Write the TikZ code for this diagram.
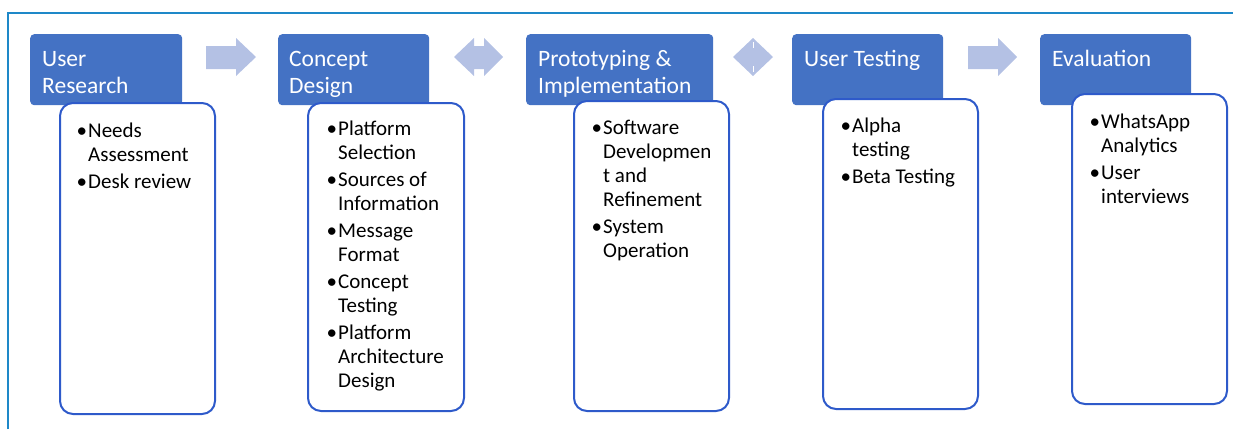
\documentclass[tikz,border=0pt]{standalone}
\usepackage{fontspec}
\setmainfont{Carlito}
\definecolor{hdrblue}{RGB}{68,114,196}
\definecolor{bodyline}{RGB}{46,90,202}
\definecolor{arrowfill}{RGB}{180,193,228}
\definecolor{framecol}{RGB}{30,136,200}
\newcommand{\bul}{\makebox[10pt][l]{\hspace{-1.5pt}•}}
\tikzset{
  hdr/.style={fill=hdrblue, draw=none, rounded corners=4pt, anchor=north west, inner sep=0pt},
  bodybox/.style={fill=white, draw=bodyline, line width=2pt, rounded corners=13pt, anchor=north west, inner sep=0pt},
  hdrtext/.style={anchor=base west, inner sep=0pt, text=white, font=\fontsize{23.5}{27}\selectfont},
  bodytext/.style={anchor=base west, inner sep=0pt, text=black, font=\fontsize{21}{24}\selectfont},
  blockarrow/.style={fill=arrowfill, draw=none}
}
\begin{document}
\begin{tikzpicture}[x=1pt,y=-1pt]
\useasboundingbox (0,0) rectangle (1233,429);
% frame
\coordinate (fa) at (8,429);
\coordinate (fb) at (8,13);
\coordinate (fc) at (1233,13);
\draw[framecol, line width=2pt] (fa) -- (fb) -- (fc);

% headers
\node[hdr, minimum width=152pt, minimum height=71pt] (h1) at (30,34) {};
\node[hdr, minimum width=151pt, minimum height=71pt] (h2) at (278,34) {};
\node[hdr, minimum width=187pt, minimum height=71pt] (h3) at (526,34) {};
\node[hdr, minimum width=151pt, minimum height=71pt] (h4) at (792,34) {};
\node[hdr, minimum width=151pt, minimum height=71pt] (h5) at (1040,34) {};

% bodies
\node[bodybox, minimum width=155pt, minimum height=311pt] (b1) at (59,102) {};
\node[bodybox, minimum width=156pt, minimum height=308pt] (b2) at (307,102) {};
\node[bodybox, minimum width=155pt, minimum height=310pt] (b3) at (573,100) {};
\node[bodybox, minimum width=155pt, minimum height=310pt] (b4) at (822,98) {};
\node[bodybox, minimum width=155pt, minimum height=310pt] (b5) at (1071,93) {};

% header texts
\node[hdrtext] (t1) at (42,66) {\begin{tabular}[t]{@{}l@{}}User\\Research\end{tabular}};
\node[hdrtext] (t2) at (289,66) {\begin{tabular}[t]{@{}l@{}}Concept\\Design\end{tabular}};
\node[hdrtext] (t3) at (538,66) {\begin{tabular}[t]{@{}l@{}}Prototyping \&\\Implementation\end{tabular}};
\node[hdrtext] (t4) at (804,66) {User Testing};
\node[hdrtext] (t5) at (1052,66) {Evaluation};

% body texts
\node[bodytext] (l1) at (78,137) {\begin{tabular}[t]{@{}l@{}l@{}}
\bul&Needs\\&Assessment\\[3pt]
\bul&Desk review\end{tabular}};
\node[bodytext] (l2) at (328,135) {\begin{tabular}[t]{@{}l@{}l@{}}
\bul&Platform\\&Selection\\[3pt]
\bul&Sources of\\&Information\\[3pt]
\bul&Message\\&Format\\[3pt]
\bul&Concept\\&Testing\\[3pt]
\bul&Platform\\&Architecture\\&Design\end{tabular}};
\node[bodytext] (l3) at (593,134) {\begin{tabular}[t]{@{}l@{}l@{}}
\bul&Software\\&Developmen\\&t and\\&Refinement\\[3pt]
\bul&System\\&Operation\end{tabular}};
\node[bodytext] (l4) at (842,132) {\begin{tabular}[t]{@{}l@{}l@{}}
\bul&Alpha\\&testing\\[3pt]
\bul&Beta Testing\end{tabular}};
\node[bodytext] (l5) at (1091,128) {\begin{tabular}[t]{@{}l@{}l@{}}
\bul&WhatsApp\\&Analytics\\[3pt]
\bul&User\\&interviews\end{tabular}};

% block arrows
\fill[blockarrow] (206,46) -- (236,46) -- (236,38) -- (256,57) -- (236,76) -- (236,69) -- (206,69) -- cycle;
\fill[blockarrow] (454,57) -- (474,38) -- (474,46) -- (484,46) -- (484,38) -- (503,57) -- (484,76) -- (484,69) -- (474,69) -- (474,76) -- cycle;
\fill[blockarrow] (733,57) -- (753,38) -- (773,57) -- (753,76) -- cycle;
\draw[white, line width=1pt] (753,42) -- (753,48);
\draw[white, line width=1pt] (753,66) -- (753,72);
\fill[blockarrow] (968,46) -- (998,46) -- (998,38) -- (1017,57) -- (998,76) -- (998,69) -- (968,69) -- cycle;
\end{tikzpicture}
\end{document}
